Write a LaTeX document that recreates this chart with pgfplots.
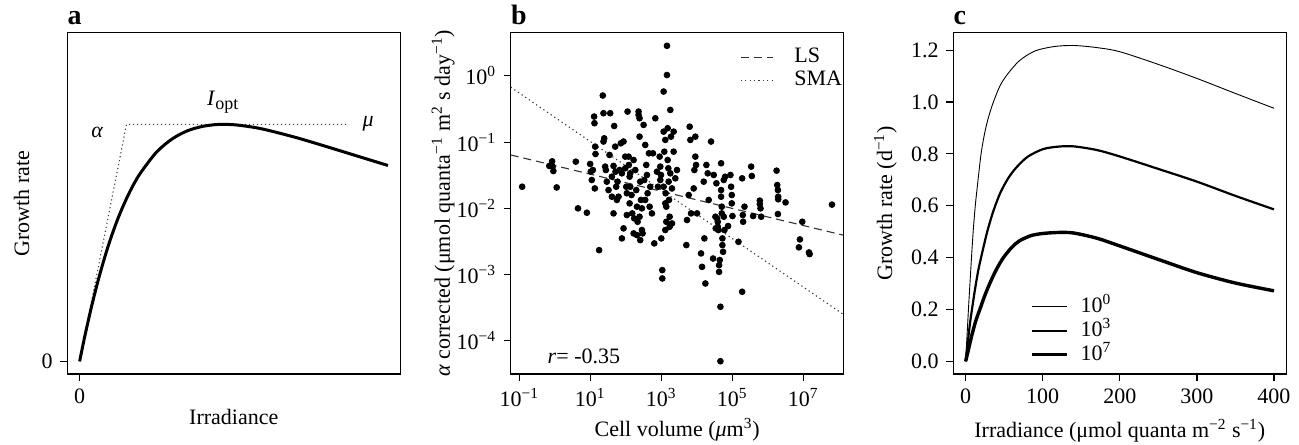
\documentclass[border=0pt]{standalone}
\usepackage{fontspec}
\setmainfont{Liberation Serif}
\usepackage{pgfplots}
\pgfplotsset{compat=1.18}

\pgfplotsset{
  rstyle/.style={
    scale only axis, width=166.5pt, height=170.6pt,
    anchor=south west, clip=false,
    axis line style={line width=0.6pt},
    tick align=outside, tick pos=left,
    major tick length=3.5pt,
    tick style={line width=0.6pt, black},
    /pgf/number format/assume math mode=true,
  },
}
\tikzset{panel/.style={anchor=south west, inner sep=0pt, font=\bfseries\fontsize{14}{14}\selectfont}}

\begin{document}
\fontsize{11}{13}\selectfont
\begin{tikzpicture}
\useasboundingbox (0,0) rectangle (649.5pt,222pt);

% ---- a: schematic
\begin{axis}[rstyle, at={(33.65pt,35pt)},
    xmin=-0.04, xmax=1.04, ymin=-0.04, ymax=1.04,
    xtick={0}, ytick={0},
    xlabel={Irradiance}, ylabel={Growth rate},
    xlabel style={at={(axis description cs:0.5,-0.1248)}, anchor=center},
    ylabel style={at={(axis description cs:-0.137,0.5)}, anchor=center},
]
\addplot[black!75, line width=0.55pt, dash pattern=on 0.6pt off 1.4pt] coordinates {
  (0,0) (0.152,0.75) (0.866,0.75)
};
\addplot[black, line width=1.5pt, smooth] coordinates {
  (0,0) (0.01,0.048) (0.02,0.094) (0.04,0.179) (0.06,0.256) (0.08,0.325)
  (0.10,0.387) (0.125,0.454) (0.15,0.511) (0.175,0.560) (0.20,0.600)
  (0.25,0.663) (0.30,0.704) (0.35,0.730) (0.40,0.744) (0.45,0.750)
  (0.50,0.749) (0.55,0.743) (0.60,0.734) (0.70,0.709) (0.80,0.680)
  (0.90,0.650) (1.00,0.620)
};
\node[font=\itshape] at (axis cs:0.057,0.726) {α};
\node at (axis cs:0.464,0.821) {\textit{I}\raisebox{-0.4ex}{\fontsize{9}{9}\selectfont opt}};
\node[font=\itshape] at (axis cs:0.936,0.752) {μ};
\node[panel] at ([yshift=3.6pt]axis description cs:0,1) {a};
\end{axis}

% ---- b: scatter
\begin{axis}[rstyle, at={(255.35pt,35pt)},
    xmode=log, ymode=log,
    xmin=0.05715, xmax=1.38e8, ymin=3.162e-5, ymax=4.467,
    xminorticks=false, yminorticks=false,
    xtick={1e-1,1e1,1e3,1e5,1e7},
    xticklabels={10\textsuperscript{−1},10\textsuperscript{1},10\textsuperscript{3},10\textsuperscript{5},10\textsuperscript{7}},
    ytick={1e-4,1e-3,1e-2,1e-1,1},
    yticklabels={10\textsuperscript{−4},10\textsuperscript{−3},10\textsuperscript{−2},10\textsuperscript{−1},10\textsuperscript{0}},
    xlabel={Cell volume (\textit{μ}m\textsuperscript{3})},
    ylabel={\textit{α} corrected (μmol quanta\textsuperscript{−1} m\textsuperscript{2} s day\textsuperscript{−1})},
    xlabel style={at={(axis description cs:0.5,-0.164)}, anchor=center},
    ylabel style={at={(axis description cs:-0.2028,0.5)}, anchor=center},
    legend style={at={(axis description cs:0.688,0.9625)}, anchor=north west, draw=none, fill=none,
      inner sep=0pt, row sep=0pt,
      nodes={inner sep=0.5pt, text height=8pt, text depth=2.5pt},
      /tikz/every odd column/.append style={column sep=10pt}},
    legend cell align=left,
    legend image code/.code={\draw[#1] (0pt,0pt) -- (16pt,0pt);},
]
\addplot[only marks, mark=*, mark size=1.45pt, black, forget plot] coordinates {
(0.12,0.0212) (0.70,0.0437) (0.84,0.0513) (0.87,0.0427) (0.91,0.0366) (1.13,0.0207)
(3.9,0.0507) (4.5,0.0100) (8.0,0.0086) (9.9,0.0468) (10.3,0.0358) (11.0,0.0268)
(11.8,0.0379) (12.8,0.243) (13.1,0.193) (13.7,0.0855) (14.0,0.0662) (13.4,0.0200)
(17.7,0.00234) (22.5,0.505) (23.5,0.273) (24.6,0.114) (23.5,0.102) (26.2,0.0427)
(27.4,0.0379) (29.2,0.0253) (32.6,0.0189) (36.3,0.273) (34.8,0.0640) (40.5,0.0150)
(45.1,0.0084) (47.1,0.175) (50.2,0.0855) (45.1,0.0437) (51.4,0.0358) (56.0,0.0134)
(58.5,0.0253) (66.7,0.0379) (72.6,0.096) (77.5,0.00352) (86.3,0.00499) (86.3,0.102)
(96.4,0.0604) (96.4,0.0403) (103,0.0212) (107,0.0169) (112,0.289) (120,0.0604)
(122,0.0452) (128,0.0301) (128,0.0119) (133,0.0212) (145,0.0159) (152,0.0084)
(166,0.0537) (173,0.00706) (185,0.0379) (197,0.0189) (206,0.0106) (215,0.00628)
(229,0.289) (229,0.257) (244,0.229) (244,0.121) (255,0.0253) (267,0.0134)
(284,0.0100) (284,0.00471) (255,0.00332) (297,0.00419) (317,0.182) (331,0.0268)
(353,0.0906) (377,0.0452) (394,0.0319) (411,0.0169) (449,0.0678) (469,0.0106)
(489,0.0212) (545,0.0084) (582,0.0678) (634,0.00296) (678,0.229) (755,0.0358)
(805,0.0212) (897,0.0604) (938,0.0427) (980,0.0319) (1000,0.00352) (1067,0.00117)
(1067,0.000875) (1164,0.580) (1164,0.144) (1216,0.0718) (1297,0.108) (1324,0.0169)
(1297,0.0119) (1384,0.0106) (1384,0.00628) (1445,2.84) (1445,1.03) (1510,0.162)
(1510,0.0537) (1578,0.0403) (1611,0.0253) (1718,0.00748) (1718,0.00528) (1795,0.306)
(1875,0.121) (2000,0.0200) (2000,0.00593) (2228,0.144) (2228,0.0718) (2483,0.0284)
(2767,0.0379) (5080,0.00279) (5309,0.00667) (5916,0.0159) (6310,0.171) (6592,0.108)
(6887,0.0084) (8185,0.0200) (8551,0.0379) (9120,0.121) (9120,0.0604) (9528,0.0452)
(10170,0.0084) (13180,0.00209) (14060,0.00131) (15670,0.0253) (16370,0.00352) (17460,0.000735)
(18660,0.0452) (20320,0.0338) (21680,0.0134) (25240,0.102) (28770,0.00175) (30060,0.0319)
(33500,0.00748) (34200,0.00499) (35730,0.0239) (37330,0.00706) (39000,0.00628) (39000,0.00528)
(40640,0.00471) (42460,0.00139) (42460,0.00110) (44360,0.00166) (46340,0.000327) (46340,0.0000493)
(48420,0.0479) (48420,0.0189) (48420,0.0150) (50580,0.0106) (50580,0.0084) (52720,0.00352)
(52720,0.00279) (55080,0.00221) (57540,0.0268) (57540,0.00748) (60120,0.00471) (62800,0.0300)
(76210,0.00541) (88720,0.0319) (92680,0.0212) (96830,0.0159) (96830,0.0119) (101200,0.00766)
(149300,0.00313) (189700,0.000551) (189700,0.0284) (197800,0.00793) (202300,0.00628) (220800,0.0106)
(340400,0.0427) (355600,0.0308) (387300,0.00766) (597000,0.0131) (597000,0.0116) (623700,0.0100)
(651600,0.00748) (1.77e6,0.0371) (1.85e6,0.0225) (1.93e6,0.0189) (1.97e6,0.0150) (1.97e6,0.0137)
(1.93e6,0.00821) (3.17e6,0.0123) (8.05e6,0.00340) (9.38e6,0.00628) (7.55e6,0.00258) (1.45e7,0.00216)
(1.51e7,0.00204) (6.44e7,0.0114) (40.5,0.0301) (53.6,0.0212) (77.5,0.0338) (107,0.00793)
(166,0.00419) (206,0.00395) (244,0.00748) (353,0.0134) (133,0.0338) (62.4,0.0150)
(938,0.0268) (1164,0.0212) (1644,0.0134) (1297,0.00471) (1795,0.0338)
};
\addplot[black!80, line width=0.55pt, dash pattern=on 4pt off 2.5pt] coordinates {
  (0.05715,0.0640) (1.32e8,0.00395)
};
\addlegendentry{LS}
\addplot[black!80, line width=0.55pt, dash pattern=on 0.6pt off 1.6pt] coordinates {
  (0.05715,0.675) (1.32e8,0.000253)
};
\addlegendentry{SMA}
\node[anchor=west] at (axis description cs:0.088,0.053) {\textit{r}= -0.35};
\node[panel] at ([yshift=3.6pt]axis description cs:0,1) {b};
\end{axis}

% ---- c: model curves
\begin{axis}[rstyle, at={(476.65pt,35pt)},
    xmin=-16, xmax=416, ymin=-0.0488, ymax=1.267,
    xtick={0,100,200,300,400},
    ytick={0,0.2,0.4,0.6,0.8,1.0,1.2},
    yticklabel style={/pgf/number format/.cd, fixed, fixed zerofill, precision=1},
    xlabel={Irradiance (μmol quanta m\textsuperscript{−2} s\textsuperscript{−1})},
    ylabel={Growth rate (d\textsuperscript{−1})},
    xlabel style={at={(axis description cs:0.5,-0.166)}, anchor=center},
    ylabel style={at={(axis description cs:-0.204,0.5)}, anchor=center},
    legend style={at={(axis description cs:0.230,0.2335)}, anchor=north west, draw=none, fill=none,
      inner sep=0pt, row sep=0pt,
      nodes={inner sep=0.5pt, text height=8.2pt, text depth=2.8pt},
      /tikz/every odd column/.append style={column sep=5.5pt}},
    legend cell align=left,
    legend image code/.code={\draw[#1] (0pt,0pt) -- (17.5pt,0pt);},
]
\addplot[black, line width=0.45pt, smooth] coordinates {
  (0,0) (2,0.11) (4,0.22) (6,0.32) (8,0.42) (10,0.51) (12.5,0.60) (15,0.67)
  (20,0.80) (25,0.885) (30,0.945) (36,1.0) (45,1.065) (55,1.11) (70,1.16)
  (90,1.197) (115,1.214) (140,1.218) (170,1.21) (200,1.194) (250,1.145)
  (300,1.091) (350,1.033) (400,0.976)
};
\addlegendentry{10\textsuperscript{0}}
\addplot[black, line width=1.1pt, smooth] coordinates {
  (0,0) (3,0.08) (6,0.155) (8.2,0.2) (12,0.275) (16,0.345) (20,0.40) (28,0.50)
  (36,0.58) (45,0.65) (55,0.705) (65,0.745) (80,0.788) (100,0.818) (120,0.828)
  (140,0.829) (170,0.815) (200,0.790) (250,0.742) (300,0.693) (350,0.638) (400,0.586)
};
\addlegendentry{10\textsuperscript{3}}
\addplot[black, line width=1.7pt, smooth] coordinates {
  (0,0) (4,0.05) (8,0.10) (13,0.155) (19,0.205) (25,0.255) (32,0.305) (40,0.355)
  (49,0.40) (60,0.44) (70,0.465) (85,0.485) (100,0.493) (120,0.497) (140,0.495)
  (170,0.475) (200,0.445) (250,0.393) (300,0.342) (350,0.302) (400,0.272)
};
\addlegendentry{10\textsuperscript{7}}
\node[panel] at ([yshift=3.6pt]axis description cs:0,1) {c};
\end{axis}
\end{tikzpicture}
\end{document}
